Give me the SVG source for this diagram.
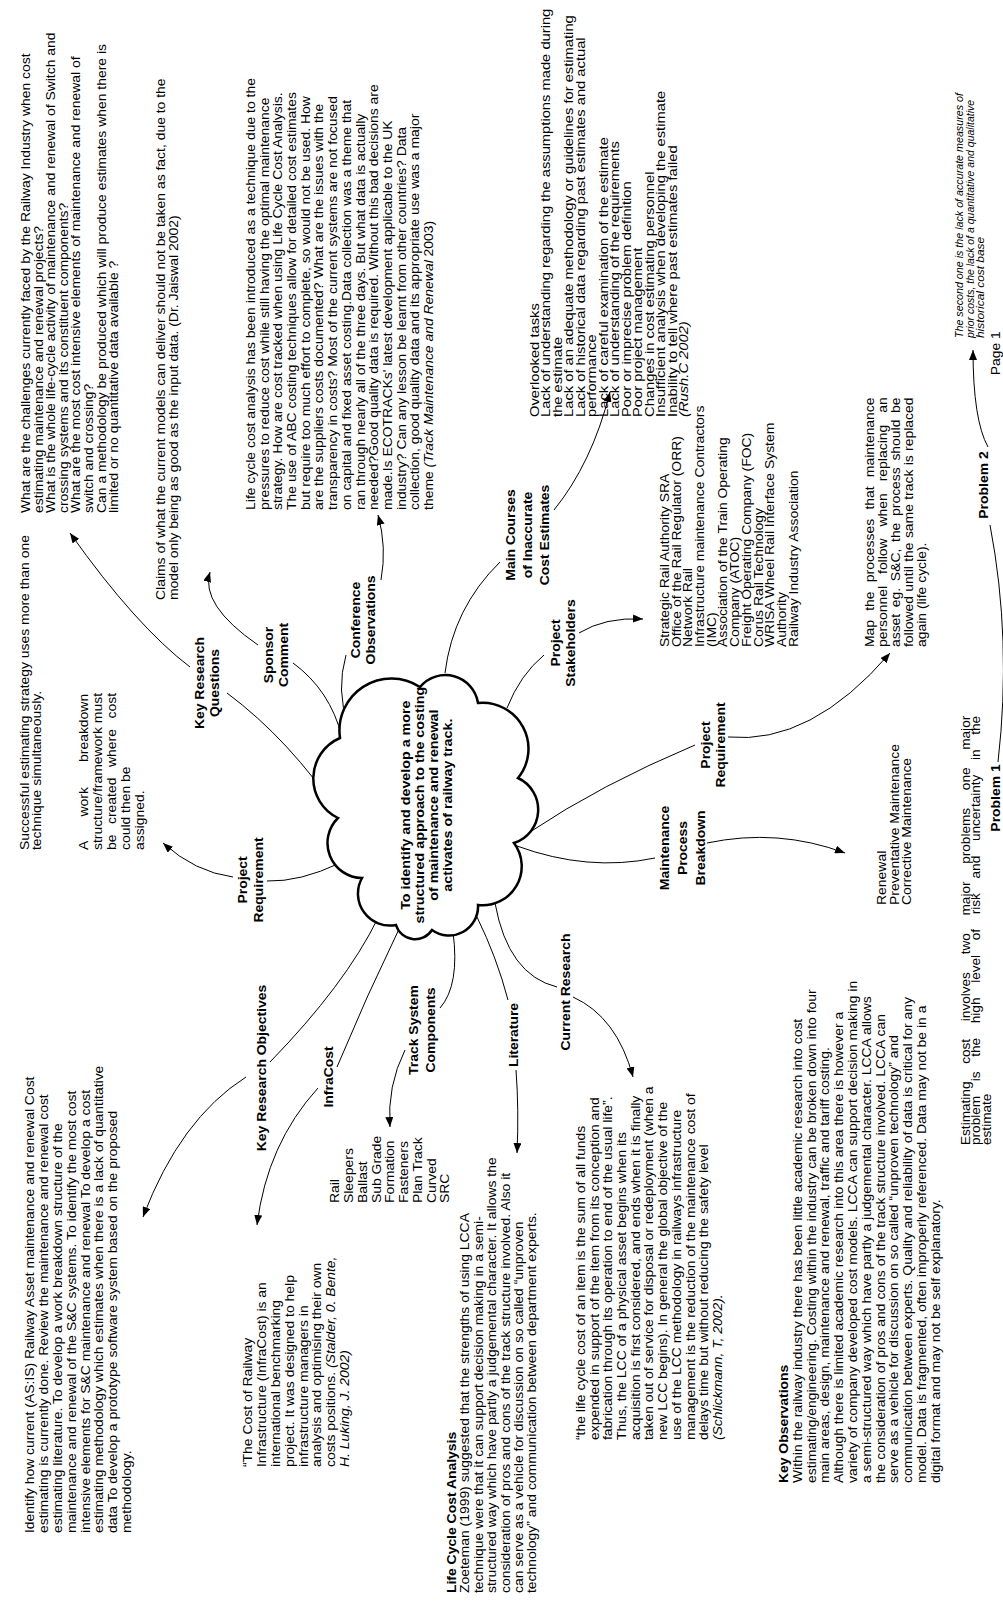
<svg xmlns="http://www.w3.org/2000/svg" width="1003" height="1608" viewBox="0 0 1003 1608">
<style>
  text { font-family: "Liberation Sans", Arial, sans-serif; font-size: 12.3px; fill: #000; }
  .b { font-weight: bold; }
  .i { font-style: italic; }
  .c { text-anchor: middle; }
  .ln { fill: none; stroke: #000; stroke-width: 1; }
  .ar { fill: none; stroke: #000; stroke-width: 1; marker-end: url(#ah); }
</style>
<defs>
  <marker id="ah" viewBox="0 0 10 8" refX="10" refY="4" markerWidth="10" markerHeight="8" markerUnits="userSpaceOnUse" orient="auto">
    <path d="M0,0 L10,4 L0,8 z" fill="#000"/>
  </marker>
</defs>
<rect width="1003" height="1608" fill="#fff"/>

<!-- connectors, drawn in page (portrait) coordinates -->
<g id="connectors">
  <path class="ln" d="M227 693 Q290 740 340 815"/>
  <path class="ar" d="M190 667 Q136 626 70 533"/>
  <path class="ln" d="M293 663 Q330 690 342 737"/>
  <path class="ar" d="M258 645 Q200 605 210 572"/>
  <path class="ln" d="M346 655 Q336 690 348 725"/>
  <path class="ar" d="M381 580 Q387 547 378 515"/>
  <path class="ln" d="M445 673 Q453 608 500 562"/>
  <path class="ar" d="M554 510 Q592 463 610 392"/>
  <path class="ln" d="M507 708 Q520 675 544 655"/>
  <path class="ar" d="M579 633 Q605 617 643 619"/>
  <path class="ln" d="M530 832 Q600 785 695 745"/>
  <path class="ar" d="M728 737 Q811 745 890 653"/>
  <path class="ln" d="M517 846 Q588 872 655 858"/>
  <path class="ar" d="M707 843 Q778 828 845 853"/>
  <path class="ln" d="M340 863 Q300 882 267 881"/>
  <path class="ar" d="M233 877 Q195 872 163 843"/>
  <path class="ln" d="M378 918 Q345 985 270 1062"/>
  <path class="ar" d="M246 1077 Q180 1119 143 1217"/>
  <path class="ln" d="M400 927 Q366 997 337 1067"/>
  <path class="ar" d="M318 1088 Q267 1144 257 1225"/>
  <path class="ln" d="M453 932 Q460 985 440 1008"/>
  <path class="ar" d="M405 1050 Q387 1086 390 1127"/>
  <path class="ln" d="M477 917 Q497 958 508 1000"/>
  <path class="ar" d="M516 1070 Q519 1110 517 1153"/>
  <path class="ln" d="M495 903 Q508 975 557 987"/>
  <path class="ar" d="M573 997 Q617 1017 633 1077"/>
  <path class="ln" d="M998 762 Q1012 640 990 525"/>
  <path class="ar" d="M988 447 Q973 420 973 350"/>
</g>

<!-- central idea -->
<g id="goal">
  <path d="M340 738 A52 52 0 0 1 420 687 A33 33 0 0 1 478 703 A46 46 0 0 1 518 778 A35 35 0 0 1 514 843 A39 39 0 0 1 478 905 A29 29 0 0 1 432 930 A20 20 0 0 1 396 925 A32 32 0 0 1 362 878 A35 35 0 0 1 338 818 A44 44 0 0 1 340 738 Z" fill="#fff" stroke="#000" stroke-width="2.5"/>
  <g transform="matrix(0,-1.134,1,0,0,1608)">
    <text class="b c" style="font-size:12.6px" x="708" y="410">To identify and develop a more</text>
    <text class="b c" style="font-size:12.6px" x="708" y="424">structured approach to the costing</text>
    <text class="b c" style="font-size:12.6px" x="708" y="438">of maintenance and renewal</text>
    <text class="b c" style="font-size:12.6px" x="708" y="452">activates of railway track.</text>
  </g>
</g>

<!-- landscape page content: x runs along the text, y across the lines -->
<g id="page" transform="matrix(0,-1.134,1,0,0,1608)">

  <g id="key-research-questions">
    <text class="b c" x="815.7" y="204">Key Research</text>
    <text class="b c" x="815.7" y="219">Questions</text>
  </g>
  <g id="questions-text">
    <text x="965.6" y="30">What are the challenges currently faced by the Railway Industry when cost</text>
    <text x="965.6" y="42.6">estimating maintenance and renewal projects?</text>
    <text x="965.6" y="55.2">What is the whole life-cycle activity of maintenance and renewal of Switch and</text>
    <text x="965.6" y="67.8">crossing systems and its constituent components?</text>
    <text x="965.6" y="80.4">What are the most cost intensive elements of maintenance and renewal of</text>
    <text x="965.6" y="93">switch and crossing?</text>
    <text x="965.6" y="105.6">Can a methodology be produced which will produce estimates when there is</text>
    <text x="965.6" y="118.2">limited or no quantitative data available ?</text>
  </g>

  <g id="sponsor-comment">
    <text class="b c" x="840.4" y="273">Sponsor</text>
    <text class="b c" x="840.4" y="288">Comment</text>
  </g>
  <g id="sponsor-text">
    <text x="888.9" y="165">Claims of what the current models can deliver should not be taken as fact, due to the</text>
    <text x="888.9" y="178">model only being as good as the input data. (Dr. Jaiswal 2002)</text>
  </g>

  <g id="conference-observations">
    <text class="b c" x="871.3" y="360">Conference</text>
    <text class="b c" x="871.3" y="375">Observations</text>
  </g>
  <g id="conference-text">
    <text x="968.3" y="255">Life cycle cost analysis has been introduced as a technique due to the</text>
    <text x="968.3" y="268.7">pressures to reduce cost while still having the optimal maintenance</text>
    <text x="968.3" y="282.4">strategy.  How are cost tracked when using Life Cycle Cost Analysis.</text>
    <text x="968.3" y="296.1">The use of ABC costing techniques allow for detailed cost estimates</text>
    <text x="968.3" y="309.8">but require too much effort to complete, so would not be used. How</text>
    <text x="968.3" y="323.5">are the suppliers costs documented? What are the issues with the</text>
    <text x="968.3" y="337.2">transparency in costs? Most of the current systems are not focused</text>
    <text x="968.3" y="350.9">on capital and fixed asset costing.Data collection was a theme that</text>
    <text x="968.3" y="364.6">ran through nearly all of the three days. But what data is actually</text>
    <text x="968.3" y="378.3">needed?Good quality data is required. Without this bad decisions are</text>
    <text x="968.3" y="392">made.Is ECOTRACKs' latest development applicable to the UK</text>
    <text x="968.3" y="405.7">industry?  Can any lesson be learnt from other countries?  Data</text>
    <text x="968.3" y="419.4">collection, good quality data and its appropriate use was a major</text>
    <text x="968.3" y="433.1">theme <tspan class="i">(Track Maintenance and Renewal</tspan> 2003)</text>
  </g>

  <g id="main-courses">
    <text class="b c" x="946.2" y="515">Main Courses</text>
    <text class="b c" x="946.2" y="532">of Inaccurate</text>
    <text class="b c" x="946.2" y="549">Cost Estimates</text>
  </g>
  <g id="main-courses-text">
    <text style="font-size:13px" x="1050.3" y="539">Overlooked tasks</text>
    <text style="font-size:13px" x="1050.3" y="550.5">Lack of understanding regarding the assumptions made during</text>
    <text style="font-size:13px" x="1050.3" y="562">the estimate</text>
    <text style="font-size:13px" x="1050.3" y="573.5">Lack of an adequate methodology or guidelines for estimating</text>
    <text style="font-size:13px" x="1050.3" y="585">Lack of historical data regarding past estimates and actual</text>
    <text style="font-size:13px" x="1050.3" y="596.5">performance</text>
    <text style="font-size:13px" x="1050.3" y="608">Lack of careful examination of the estimate</text>
    <text style="font-size:13px" x="1050.3" y="619.5">Lack of understanding of the requirements</text>
    <text style="font-size:13px" x="1050.3" y="631">Poor or imprecise problem definition</text>
    <text style="font-size:13px" x="1050.3" y="642.5">Poor project management</text>
    <text style="font-size:13px" x="1050.3" y="654">Changes in cost estimating personnel</text>
    <text style="font-size:13px" x="1050.3" y="665.5">Insufficient analysis when developing the estimate</text>
    <text style="font-size:13px" x="1050.3" y="677">Inability to tell where past estimates failed</text>
    <text class="i" style="font-size:13px" x="1050.3" y="688.5">(Rush.C 2002)</text>
  </g>

  <g id="project-stakeholders">
    <text class="b c" x="851" y="560">Project</text>
    <text class="b c" x="851" y="575">Stakeholders</text>
  </g>
  <g id="stakeholders-text">
    <text x="847.4" y="669">Strategic Rail Authority SRA</text>
    <text x="847.4" y="680.7">Office of the Rail Regulator (ORR)</text>
    <text x="847.4" y="692.4">Network Rail</text>
    <text x="847.4" y="704.1">Infrastructure maintenance Contractors</text>
    <text x="847.4" y="715.8">(IMC)</text>
    <text x="847.4" y="727.5">Association of the Train Operating</text>
    <text x="847.4" y="739.2">Company (ATOC)</text>
    <text x="847.4" y="750.9">Freight Operating Company (FOC)</text>
    <text x="847.4" y="762.6">Corus Rail Technology</text>
    <text x="847.4" y="774.3">WRISA Wheel Rail Interface System</text>
    <text x="847.4" y="786">Authority</text>
    <text x="847.4" y="797.7">Railway Industry Association</text>
  </g>

  <g id="project-requirement-right">
    <text class="b c" x="761" y="710">Project</text>
    <text class="b c" x="761" y="725">Requirement</text>
  </g>
  <g id="process-map-text">
    <text x="847.4" y="874" word-spacing="4.7">Map the processes that maintenance</text>
    <text x="847.4" y="887" word-spacing="7.1">personnel follow when replacing an</text>
    <text x="847.4" y="900" word-spacing="2.45">asset eg. S&amp;C, the process should be</text>
    <text x="847.4" y="913" word-spacing="0.4">followed until the same track is replaced</text>
    <text x="847.4" y="926">again (life cycle).</text>
  </g>

  <g id="maintenance-breakdown">
    <text class="b c" x="670.2" y="669">Maintenance</text>
    <text class="b c" x="670.2" y="687">Process</text>
    <text class="b c" x="670.2" y="705">Breakdown</text>
  </g>
  <g id="maintenance-types">
    <text x="620" y="886">Renewal</text>
    <text x="620" y="899">Preventative Maintenance</text>
    <text x="620" y="911">Corrective Maintenance</text>
  </g>

  <g id="estimating-problems">
    <text style="font-size:12px" x="408.3" y="970" word-spacing="12.3">Estimating cost involves two major problems one major</text>
    <text style="font-size:12px" x="408.3" y="980.5" word-spacing="9.6">problem is the high level of risk and uncertainty in the</text>
    <text style="font-size:12px" x="408.3" y="991">estimate</text>
  </g>
  <g id="problem-1">
    <text class="b c" x="714.3" y="1000">Problem 1</text>
  </g>
  <g id="problem-2">
    <text class="b c" x="990.3" y="988">Problem 2</text>
  </g>
  <g id="problem-2-text">
    <text class="i" style="font-size:10.5px" x="1119.9" y="963" textLength="216" lengthAdjust="spacingAndGlyphs">The second one is the lack of accurate measures of</text>
    <text class="i" style="font-size:10.5px" x="1119.9" y="974" textLength="210" lengthAdjust="spacingAndGlyphs">prior costs, the lack of a quantitative and qualitative</text>
    <text class="i" style="font-size:10.5px" x="1119.9" y="984">historical cost base</text>
  </g>
  <g id="page-number">
    <text x="1087" y="1000">Page 1</text>
  </g>

  <g id="project-requirement-left">
    <text class="b c" x="642" y="247">Project</text>
    <text class="b c" x="642" y="263">Requirement</text>
  </g>
  <g id="requirement-text">
    <text x="668.4" y="29">Successful estimating strategy uses more than one</text>
    <text x="668.4" y="41.5">technique simultaneously.</text>
    <text x="668.4" y="88" word-spacing="18.7">A work breakdown</text>
    <text x="668.4" y="102">structure/framework must</text>
    <text x="668.4" y="116" word-spacing="5.9">be created where cost</text>
    <text x="668.4" y="130">could then be</text>
    <text x="668.4" y="144">assigned.</text>
  </g>

  <g id="key-research-objectives">
    <text class="b c" x="476.2" y="266">Key Research Objectives</text>
  </g>
  <g id="objectives-text">
    <text x="66.1" y="34.5">Identify how current (AS:IS) Railway Asset maintenance and renewal Cost</text>
    <text x="66.1" y="48.3">estimating is currently done.  Review the maintenance and renewal cost</text>
    <text x="66.1" y="62.1">estimating literature.  To develop a  work breakdown structure of the</text>
    <text x="66.1" y="75.9">maintenance and renewal of the S&amp;C systems. To identify the most cost</text>
    <text x="66.1" y="89.7">intensive elements for S&amp;C maintenance and renewal To develop a cost</text>
    <text x="66.1" y="103.5">estimating methodology  which estimates when there is a lack of quantitative</text>
    <text x="66.1" y="117.3">data To develop a prototype software system based on the proposed</text>
    <text x="66.1" y="131.1">methodology.</text>
  </g>

  <g id="infracost">
    <text class="b c" x="468.3" y="333">InfraCost</text>
  </g>
  <g id="infracost-text">
    <text x="124.3" y="252">“The Cost of Railway</text>
    <text x="124.3" y="265.9">Infrastructure (InfraCost) is an</text>
    <text x="124.3" y="279.8">international benchmarking</text>
    <text x="124.3" y="293.7">project. It was designed to help</text>
    <text x="124.3" y="307.6">infrastructure managers in</text>
    <text x="124.3" y="321.5">analysis and optimising their own</text>
    <text x="124.3" y="335.4">costs positions. <tspan class="i">(Stalder, 0. Bente,</tspan></text>
    <text class="i" x="124.3" y="349.3">H. Luking, J. 2002)</text>
  </g>

  <g id="track-system-components">
    <text class="b c" x="509.7" y="418">Track System</text>
    <text class="b c" x="509.7" y="435">Components</text>
  </g>
  <g id="components-list">
    <text x="357.1" y="339.5">Rail</text>
    <text x="357.1" y="353.3">Sleepers</text>
    <text x="357.1" y="367">Ballast</text>
    <text x="357.1" y="380.8">Sub Grade</text>
    <text x="357.1" y="394.5">Formation</text>
    <text x="357.1" y="408.3">Fasteners</text>
    <text x="357.1" y="422">Plan Track</text>
    <text x="357.1" y="435.8">Curved</text>
    <text x="357.1" y="449.5">SRC</text>
  </g>

  <g id="literature">
    <text class="b c" x="505.3" y="518">Literature</text>
  </g>
  <g id="literature-text">
    <text class="b" x="13.2" y="456">Life Cycle Cost Analysis</text>
    <text x="13.2" y="469.4">Zoeteman (1999) suggested that the strengths of using LCCA</text>
    <text x="13.2" y="482.8">technique were that it can support decision making in a semi-</text>
    <text x="13.2" y="496.2">structured way which have partly a judgemental character. It allows the</text>
    <text x="13.2" y="509.6">consideration of pros and cons of the track structure involved. Also it</text>
    <text x="13.2" y="523">can serve as a vehicle for discussion on so called “unproven</text>
    <text x="13.2" y="536.4">technology” and communication between department experts.</text>
  </g>

  <g id="current-research">
    <text class="b c" x="543.2" y="570">Current Research</text>
  </g>
  <g id="research-text">
    <text x="148.1" y="585">“the life cycle cost of an item is the sum of all funds</text>
    <text x="148.1" y="598.7">expended in support of the item from its conception and</text>
    <text x="148.1" y="612.4">fabrication through its operation to end of the usual life”.</text>
    <text x="148.1" y="626.1">Thus, the LCC of a physical asset begins when its</text>
    <text x="148.1" y="639.8">acquisition is first considered, and ends when it is finally</text>
    <text x="148.1" y="653.5">taken out of service for disposal or redeployment (when a</text>
    <text x="148.1" y="667.2">new LCC begins). In general the global objective of the</text>
    <text x="148.1" y="680.9">use of the LCC methodology in railways infrastructure</text>
    <text x="148.1" y="694.6">management is the reduction of the maintenance cost of</text>
    <text x="148.1" y="708.3">delays time but without reducing the safety level</text>
    <text class="i" x="148.1" y="722">(Schlickmann, T, 2002).</text>
  </g>
  <g id="key-observations">
    <text class="b" x="110.2" y="788">Key Observations</text>
    <text x="110.2" y="801.8">Within the railway industry there has been little academic research into cost</text>
    <text x="110.2" y="815.6">estimating/engineering. Costing within the industry can be broken down into four</text>
    <text x="110.2" y="829.4">main areas, design, maintenance and renewal, traffic and tariff costing.</text>
    <text x="110.2" y="843.2">Although there is limited academic research into this area there is however a</text>
    <text x="110.2" y="857">variety of company developed cost models. LCCA can support decision making in</text>
    <text x="110.2" y="870.8">a semi-structured way which have partly a judgemental character. LCCA allows</text>
    <text x="110.2" y="884.6">the consideration of pros and cons of the track structure involved. LCCA can</text>
    <text x="110.2" y="898.4">serve as a vehicle for discussion on so called “unproven technology” and</text>
    <text x="110.2" y="912.2">communication between experts. Quality and reliability of data is critical for any</text>
    <text x="110.2" y="926">model. Data is fragmented, often improperly referenced.  Data may not be in a</text>
    <text x="110.2" y="939.8">digital format and may not be self explanatory.</text>
  </g>
</g>
</svg>
